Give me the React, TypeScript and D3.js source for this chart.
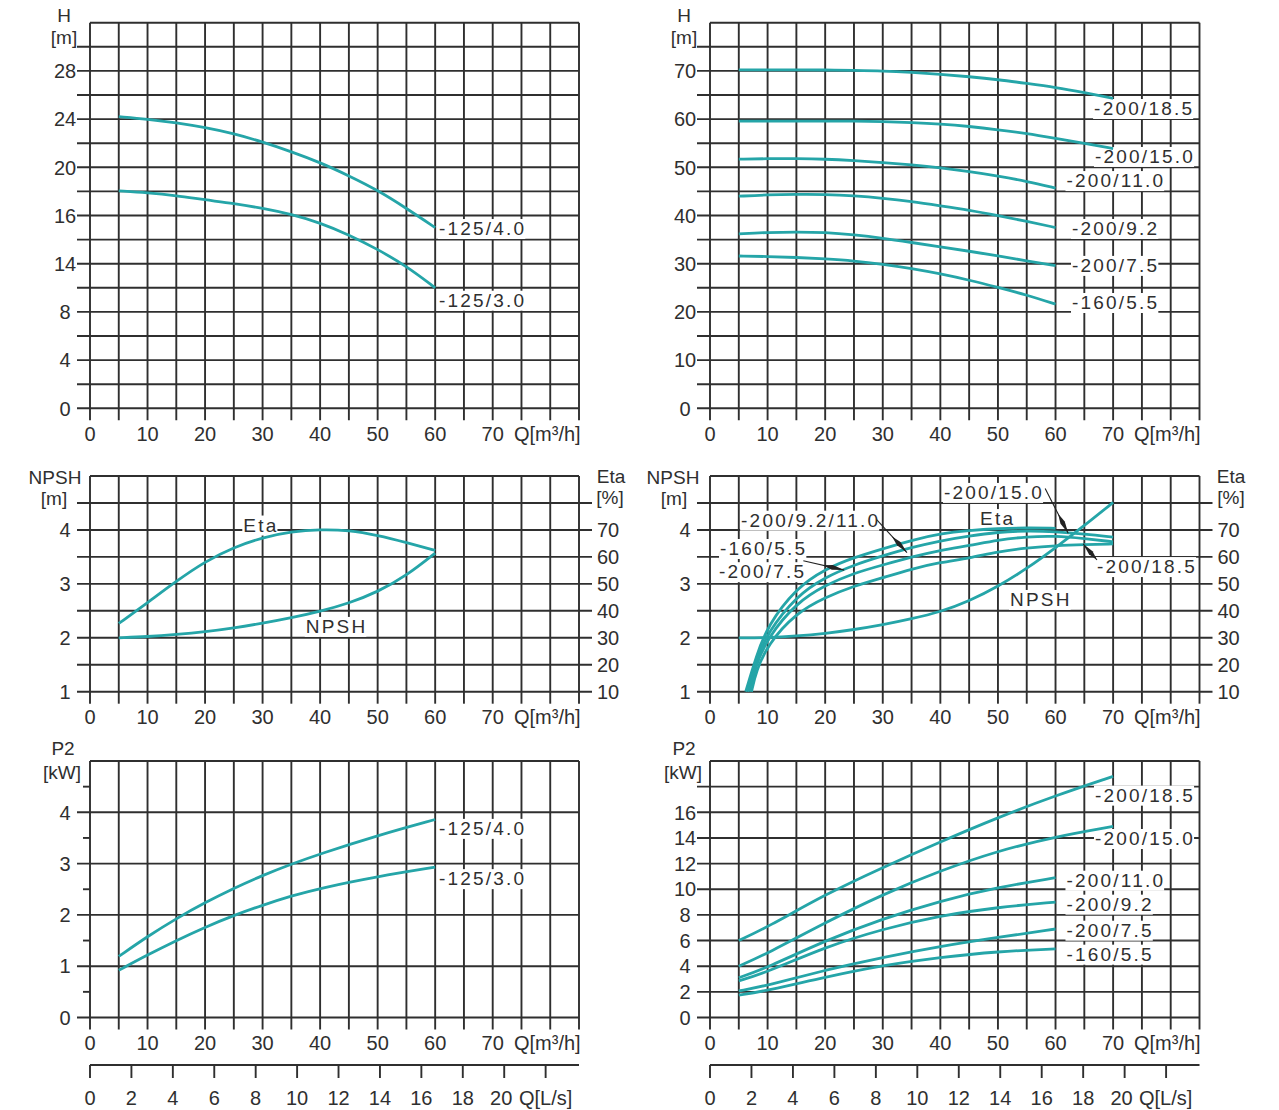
import React, { useEffect, useRef } from 'react';
import * as d3 from 'd3';

const INK = '#2f2f2f';
const CURVE = '#25a5a8';
const FONT = '"Liberation Sans", Arial, sans-serif';

// axis ticks
const qTicks = [0, 10, 20, 30, 40, 50, 60, 70];
const lsTicks = [0, 2, 4, 6, 8, 10, 12, 14, 16, 18, 20];
const headLeftTicks = [0, 4, 8, 12, 16, 20, 24, 28];
const headLeftText = ['0', '4', '8', '14', '16', '20', '24', '28'];
const headRightTicks = [0, 10, 20, 30, 40, 50, 60, 70];
const npshTicks = [1, 2, 3, 4];
const etaTicks = [10, 20, 30, 40, 50, 60, 70];
const powerLeftTicks = [0, 1, 2, 3, 4];
const powerRightTicks = [0, 2, 4, 6, 8, 10, 12, 14, 16];

// head curves, 125 models
const q125 = [5, 10, 15, 20, 25, 30, 35, 40, 45, 50, 55, 60];
const head125_40 = [24.2, 24.0, 23.7, 23.3, 22.8, 22.1, 21.3, 20.4, 19.3, 18.1, 16.6, 15.0];
const head125_30 = [18.05, 17.9, 17.65, 17.3, 17.0, 16.6, 16.1, 15.4, 14.4, 13.2, 11.8, 10.0];

// head curves, 200/160 models
const qLong = [5, 10, 15, 20, 25, 30, 35, 40, 45, 50, 55, 60, 65, 70];
const qShort = [5, 10, 15, 20, 25, 30, 35, 40, 45, 50, 55, 60];
const head200_185 = [70.2, 70.2, 70.2, 70.2, 70.1, 70.0, 69.7, 69.3, 68.8, 68.2, 67.4, 66.6, 65.5, 64.3];
const head200_150 = [59.6, 59.6, 59.6, 59.6, 59.6, 59.5, 59.3, 59.0, 58.5, 57.8, 57.0, 56.0, 55.0, 53.9];
const head200_110 = [51.7, 51.8, 51.8, 51.7, 51.4, 51.0, 50.5, 49.9, 49.1, 48.2, 47.1, 45.7];
const head200_92 = [44.0, 44.3, 44.4, 44.4, 44.1, 43.6, 42.9, 42.0, 41.1, 40.0, 38.8, 37.5];
const head200_75 = [36.2, 36.5, 36.6, 36.5, 36.0, 35.3, 34.4, 33.5, 32.6, 31.6, 30.6, 29.6];
const head160_55 = [31.6, 31.5, 31.3, 31.0, 30.6, 29.9, 29.0, 27.9, 26.6, 25.1, 23.5, 21.6];

// npsh / efficiency, 125 models
const eta125 = [35.3, 43.0, 51.0, 58.3, 63.6, 67.2, 69.4, 70.2, 69.9, 68.0, 65.3, 62.4];
const npsh125 = [2.0, 2.02, 2.06, 2.11, 2.18, 2.27, 2.37, 2.49, 2.64, 2.85, 3.15, 3.57];

// npsh / efficiency, 200/160 models
const npsh200 = [2.0, 2.0, 2.03, 2.08, 2.15, 2.24, 2.35, 2.48, 2.68, 2.95, 3.28, 3.67, 4.08, 4.51];
const qEtaA = [6.2, 8, 10, 15, 20, 25, 30, 35, 40, 45, 50, 55, 60];
const etaA = [10, 23, 34.5, 48.5, 55.5, 59.8, 63, 66.2, 68.6, 69.8, 70.5, 70.8, 70.6];
const qEtaB = [6.5, 8, 10, 15, 20, 25, 30, 35, 40, 45, 50, 55, 60, 65, 70];
const etaB = [10, 21.5, 32, 45.5, 52.5, 57, 60.4, 63.5, 66, 67.8, 69.2, 69.7, 69.4, 68.5, 67.3];
const qEtaC = [6.8, 8, 10, 15, 20, 25, 30, 35, 40, 45, 50, 55, 60, 65, 70];
const etaC = [10, 20, 30, 43, 49.5, 54, 57, 60, 62.5, 64.2, 66.3, 67.5, 67.8, 66.8, 65.6];
const qEtaD = [7.2, 8, 10, 15, 20, 25, 30, 35, 40, 45, 50, 55, 60, 65, 70];
const etaD = [10, 17.5, 27.5, 39.3, 45, 49.2, 52.3, 55.5, 58, 59.5, 62, 63.3, 64.2, 64.6, 64.8];

// power curves
const qPower125 = [5, 10, 15, 20, 25, 30, 35, 40, 50, 60];
const power125_40 = [1.19, 1.58, 1.93, 2.24, 2.52, 2.77, 2.99, 3.19, 3.55, 3.86];
const power125_30 = [0.92, 1.22, 1.5, 1.76, 1.99, 2.19, 2.37, 2.52, 2.75, 2.93];
const qPowerLong = [5, 10, 20, 30, 40, 50, 60, 70];
const qPowerShort = [5, 10, 20, 30, 40, 50, 60];
const power200_185 = [6.0, 7.05, 9.6, 11.7, 13.7, 15.6, 17.3, 18.8];
const power200_150 = [4.0, 5.0, 7.4, 9.6, 11.45, 13.0, 14.1, 14.9];
const power200_110 = [3.1, 3.9, 6.0, 7.7, 9.1, 10.15, 10.9];
const power200_92 = [2.85, 3.55, 5.5, 6.9, 7.95, 8.6, 9.0];
const power200_75 = [2.07, 2.5, 3.7, 4.7, 5.55, 6.25, 6.9];
const power160_55 = [1.74, 2.1, 3.15, 4.07, 4.7, 5.15, 5.35];

const leftX = d3.scaleLinear().domain([0, 85]).range([90, 579]);
const rightX = d3.scaleLinear().domain([0, 85]).range([710, 1199.5]);

const textStyle = (s: any, size = 20) =>
  s.attr('font-family', FONT).attr('font-size', size).attr('fill', INK);

function frame(g: any, x: any, y: any, o: any) {
  const [xa, xb] = x.range();
  const [yb, yt] = y.range();
  const grid = g.append('g').attr('stroke', INK).attr('stroke-width', 1.9);
  grid.selectAll(null).data(d3.range(0, 86, 5)).join('line')
    .attr('x1', (d: number) => x(d)).attr('x2', (d: number) => x(d))
    .attr('y1', yt).attr('y2', yb + 12);
  const top = y.domain()[1];
  grid.selectAll(null).data(o.grid).join('line')
    .attr('x1', (d: number) => (d === top ? xa : xa - 13))
    .attr('x2', (d: number) => (o.right && d !== top ? xb + 13 : xb))
    .attr('y1', (d: number) => y(d)).attr('y2', (d: number) => y(d));
  if (o.halfTicks) {
    grid.selectAll(null).data(o.halfTicks).join('line')
      .attr('x1', xa - 7).attr('x2', xa)
      .attr('y1', (d: number) => y(d)).attr('y2', (d: number) => y(d));
  }
  const txt = g.append('g');
  textStyle(txt.selectAll(null).data(o.ticks).join('text'))
    .attr('x', xa - 25).attr('y', (d: number) => y(d)).attr('dy', '0.36em')
    .attr('text-anchor', 'middle')
    .text((d: number, i: number) => (o.tickText ? o.tickText[i] : String(d)));
  if (o.right) {
    textStyle(txt.selectAll(null).data(o.right.ticks).join('text'))
      .attr('x', xb + 18).attr('y', (d: number) => o.right.scale(d)).attr('dy', '0.36em')
      .text((d: number) => String(d));
  }
  textStyle(txt.selectAll(null).data(qTicks).join('text'))
    .attr('x', (d: number) => x(d)).attr('y', yb + 25).attr('dy', '0.36em')
    .attr('text-anchor', 'middle').text((d: number) => String(d));
  textStyle(txt.append('text')).attr('x', xa + 424).attr('y', yb + 25).attr('dy', '0.36em')
    .text('Q[m³/h]');
  o.titles.forEach((t: any) => {
    textStyle(txt.append('text'), 19).attr('x', t.x).attr('y', t.y).attr('dy', '0.36em')
      .attr('text-anchor', 'middle').text(t.text);
  });
  if (o.litres) {
    const ls = d3.scaleLinear().domain([0, 85 / 3.6]).range([xa, xb]);
    const ly = yb + 47.5;
    grid.append('line').attr('x1', xa).attr('x2', xb).attr('y1', ly).attr('y2', ly);
    grid.selectAll(null).data(d3.range(0, 23, 2)).join('line')
      .attr('x1', (d: number) => ls(d)).attr('x2', (d: number) => ls(d))
      .attr('y1', ly).attr('y2', ly + 13);
    textStyle(txt.selectAll(null).data(lsTicks).join('text'))
      .attr('x', (d: number) => ls(d) - (d === 20 ? 3 : 0)).attr('y', yb + 80).attr('dy', '0.36em')
      .attr('text-anchor', 'middle').text((d: number) => String(d));
    textStyle(txt.append('text')).attr('x', xa + 429).attr('y', yb + 80).attr('dy', '0.36em')
      .text('Q[L/s]');
  }
}

function curve(g: any, x: any, y: any, qs: number[], vs: number[]) {
  const line = d3.line<number>()
    .x((_, i) => x(qs[i]))
    .y((d) => y(d))
    .curve(d3.curveBasis);
  g.append('path').attr('d', line(vs)).attr('fill', 'none')
    .attr('stroke', CURVE).attr('stroke-width', 2.8);
}

function label(boxes: any, texts: any, x: any, y: any, text: string, q: number, v: number, anchor = 'start') {
  const t = textStyle(texts.append('text'), 19)
    .attr('x', x(q)).attr('y', y(v)).attr('text-anchor', anchor)
    .attr('letter-spacing', 2.2).text(text);
  const b = t.node().getBBox();
  boxes.append('rect').attr('x', b.x - 1).attr('y', y(v) - 16)
    .attr('width', b.width).attr('height', 20).attr('fill', '#fff');
}

function arrow(g: any, x: any, y: any, pts: number[][]) {
  const p = pts.map(([q, v]) => [x(q), y(v)]);
  g.append('path').attr('d', d3.line()(p as any)).attr('fill', 'none')
    .attr('stroke', '#222').attr('stroke-width', 1.1);
  const [tx, ty] = p[p.length - 1];
  const [px, py] = p[p.length - 2];
  const len = Math.hypot(tx - px, ty - py);
  const ux = (tx - px) / len, uy = (ty - py) / len;
  const nx = -uy, ny = ux;
  const L = Math.min(22, len), w = 2.4;
  const poly = [
    [tx, ty],
    [tx - ux * L * 0.55 + nx * w, ty - uy * L * 0.55 + ny * w],
    [tx - ux * L, ty - uy * L],
    [tx - ux * L * 0.55 - nx * w, ty - uy * L * 0.55 - ny * w],
  ];
  g.append('polygon').attr('points', poly.map((d) => d.join(',')).join(' ')).attr('fill', '#222');
}

function draw(svg: any) {
  svg.append('rect').attr('width', 1279).attr('height', 1110).attr('fill', '#fff');

  // ---- top left: head
  {
    const g = svg.append('g');
    const x = leftX;
    const y = d3.scaleLinear().domain([0, 32]).range([408.3, 22.7]);
    frame(g, x, y, {
      grid: d3.range(0, 33, 2), ticks: headLeftTicks, tickText: headLeftText,
      titles: [{ text: 'H', x: 64, y: 15 }, { text: '[m]', x: 64, y: 37 }],
    });
    const boxes = g.append('g'), lines = g.append('g'), texts = g.append('g');
    curve(lines, x, y, q125, head125_40);
    curve(lines, x, y, q125, head125_30);
    label(boxes, texts, x, y, '-125/4.0', 60.66, 14.38);
    label(boxes, texts, x, y, '-125/3.0', 60.66, 8.43);
  }

  // ---- top right: head
  {
    const g = svg.append('g');
    const x = rightX;
    const y = d3.scaleLinear().domain([0, 80]).range([408.3, 22.7]);
    frame(g, x, y, {
      grid: d3.range(0, 81, 5), ticks: headRightTicks,
      titles: [{ text: 'H', x: 684, y: 15 }, { text: '[m]', x: 684, y: 37 }],
    });
    const boxes = g.append('g'), lines = g.append('g'), texts = g.append('g');
    curve(lines, x, y, qLong, head200_185);
    curve(lines, x, y, qLong, head200_150);
    curve(lines, x, y, qShort, head200_110);
    curve(lines, x, y, qShort, head200_92);
    curve(lines, x, y, qShort, head200_75);
    curve(lines, x, y, qShort, head160_55);
    label(boxes, texts, x, y, '-200/18.5', 66.7, 60.85);
    label(boxes, texts, x, y, '-200/15.0', 66.85, 50.9);
    label(boxes, texts, x, y, '-200/11.0', 61.9, 45.9);
    label(boxes, texts, x, y, '-200/9.2', 62.86, 35.96);
    label(boxes, texts, x, y, '-200/7.5', 62.86, 28.3);
    label(boxes, texts, x, y, '-160/5.5', 62.86, 20.6);
  }

  // ---- middle left: npsh / eta
  {
    const g = svg.append('g');
    const x = leftX;
    const y = d3.scaleLinear().domain([1, 5]).range([691.7, 476]);
    const e = d3.scaleLinear().domain([10, 90]).range([691.7, 476]);
    frame(g, x, y, {
      grid: d3.range(1, 5.01, 0.5), ticks: npshTicks, right: { ticks: etaTicks, scale: e },
      titles: [
        { text: 'NPSH', x: 55, y: 477 }, { text: '[m]', x: 54, y: 498 },
        { text: 'Eta', x: 611, y: 476 }, { text: '[%]', x: 610, y: 497 },
      ],
    });
    const boxes = g.append('g'), lines = g.append('g'), texts = g.append('g');
    curve(lines, x, e, q125, eta125);
    curve(lines, x, y, q125, npsh125);
    label(boxes, texts, x, e, 'Eta', 29.7, 69.4, 'middle');
    label(boxes, texts, x, e, 'NPSH', 37.5, 31.8);
  }

  // ---- middle right: npsh / eta
  {
    const g = svg.append('g');
    const x = rightX;
    const y = d3.scaleLinear().domain([1, 5]).range([691.7, 476]);
    const e = d3.scaleLinear().domain([10, 90]).range([691.7, 476]);
    frame(g, x, y, {
      grid: d3.range(1, 5.01, 0.5), ticks: npshTicks, right: { ticks: etaTicks, scale: e },
      titles: [
        { text: 'NPSH', x: 673, y: 477 }, { text: '[m]', x: 674, y: 498 },
        { text: 'Eta', x: 1231, y: 476 }, { text: '[%]', x: 1231, y: 497 },
      ],
    });
    const boxes = g.append('g'), lines = g.append('g'), notes = g.append('g'), texts = g.append('g');
    curve(lines, x, y, qLong, npsh200);
    curve(lines, x, e, qEtaA, etaA);
    curve(lines, x, e, qEtaB, etaB);
    curve(lines, x, e, qEtaC, etaC);
    curve(lines, x, e, qEtaD, etaD);
    label(boxes, texts, x, e, '-200/9.2/11.0', 5.4, 71.2);
    label(boxes, texts, x, e, '-160/5.5', 1.74, 60.7);
    label(boxes, texts, x, e, '-200/7.5', 1.56, 52.1);
    label(boxes, texts, x, e, '-200/15.0', 40.63, 81.5);
    label(boxes, texts, x, e, 'Eta', 46.9, 71.8);
    label(boxes, texts, x, e, '-200/18.5', 67.2, 54.0);
    label(boxes, texts, x, e, 'NPSH', 52.1, 41.8);
    arrow(notes, x, e, [[28.9, 73.9], [34.2, 61.6]]);
    arrow(notes, x, e, [[16.2, 58.6], [23.3, 55.1]]);
    arrow(notes, x, e, [[58.2, 85.4], [60.1, 77.4], [62.2, 68.75]]);
    arrow(notes, x, e, [[67.2, 58.85], [64.8, 64.8]]);
  }

  // ---- bottom left: power
  {
    const g = svg.append('g');
    const x = leftX;
    const y = d3.scaleLinear().domain([0, 5]).range([1017.5, 761]);
    frame(g, x, y, {
      grid: d3.range(0, 6, 1), ticks: powerLeftTicks, halfTicks: d3.range(0.5, 5, 1), litres: true,
      titles: [{ text: 'P2', x: 63, y: 748 }, { text: '[kW]', x: 62, y: 772 }],
    });
    const boxes = g.append('g'), lines = g.append('g'), texts = g.append('g');
    curve(lines, x, y, qPower125, power125_40);
    curve(lines, x, y, qPower125, power125_30);
    label(boxes, texts, x, y, '-125/4.0', 60.66, 3.56);
    label(boxes, texts, x, y, '-125/3.0', 60.66, 2.58);
  }

  // ---- bottom right: power
  {
    const g = svg.append('g');
    const x = rightX;
    const y = d3.scaleLinear().domain([0, 20]).range([1017.5, 761]);
    frame(g, x, y, {
      grid: d3.range(0, 21, 2), ticks: powerRightTicks, litres: true,
      titles: [{ text: 'P2', x: 684, y: 748 }, { text: '[kW]', x: 683, y: 772 }],
    });
    const boxes = g.append('g'), lines = g.append('g'), texts = g.append('g');
    curve(lines, x, y, qPowerLong, power200_185);
    curve(lines, x, y, qPowerLong, power200_150);
    curve(lines, x, y, qPowerShort, power200_110);
    curve(lines, x, y, qPowerShort, power200_92);
    curve(lines, x, y, qPowerShort, power200_75);
    curve(lines, x, y, qPowerShort, power160_55);
    label(boxes, texts, x, y, '-200/18.5', 66.85, 16.83);
    label(boxes, texts, x, y, '-200/15.0', 66.85, 13.45);
    label(boxes, texts, x, y, '-200/11.0', 61.9, 10.2);
    label(boxes, texts, x, y, '-200/9.2', 61.9, 8.33);
    label(boxes, texts, x, y, '-200/7.5', 61.9, 6.3);
    label(boxes, texts, x, y, '-160/5.5', 61.9, 4.43);
  }
}

const App = () => {
  const ref = useRef<SVGSVGElement>(null);

  useEffect(() => {
    const svg = d3.select(ref.current);
    svg.selectAll('*').remove();
    draw(svg);
  }, []);

  return (
    <svg
      ref={ref}
      width={1279}
      height={1110}
      style={{ position: 'absolute', left: 0, top: 0, background: '#fff' }}
    />
  );
};

export default App;
